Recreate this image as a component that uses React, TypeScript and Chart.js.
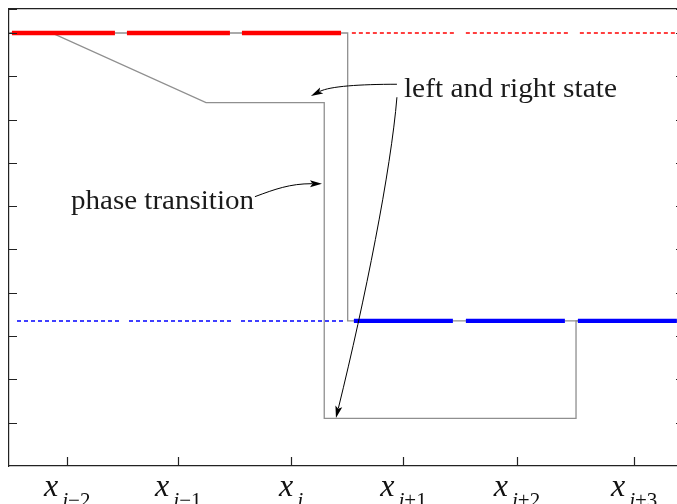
import { useEffect, useRef } from "react";
import { Chart, registerables } from "chart.js";

Chart.register(...registerables);

// Axis extents (cell units on x, state value on y)
const X_MIN = -0.517;
const X_MAX = 5.472;
const Y_MIN = 0;
const Y_MAX = 10.554;

// Cell centres and their subscripts
const xTickValues = [0, 0.985, 1.985, 2.983, 3.99, 5.03];
const xTickSubscripts = ["j\u22122", "j\u22121", "j", "j+1", "j+2", "j+3"];

// Numerical solution with the phase transition
const numericX = [-0.517, -0.138, 1.231, 2.28, 2.28, 4.514, 4.514, 5.472];
const numericY = [10, 10, 8.39, 8.39, 1.1, 1.1, 3.35, 3.35];

// Exact Riemann solution
const exactX = [-0.517, 2.488, 2.488, 5.472];
const exactY = [10, 10, 3.35, 3.35];

// Left state (red) and right state (blue)
const leftSolidX = [-0.491, 2.429];
const leftSolidY = [10, 10];
const leftDottedX = [2.525, 5.472];
const leftDottedY = [10, 10];
const rightDottedX = [-0.446, 2.49];
const rightDottedY = [3.35, 3.35];
const rightSolidX = [2.543, 5.472];
const rightSolidY = [3.35, 3.35];

// Annotations: label anchors and arrow curves (data units)
const stateLabel = { text: "left and right state", at: [2.987, 8.516], width: 213 };
const phaseLabel = { text: "phase transition", at: [0.033, 5.931], width: 183 };
const arrows = [
  [[2.925, 8.816], [2.597, 8.816], [2.331, 8.77], [2.162, 8.546]],
  [[2.925, 8.516], [2.872, 6.831], [2.641, 3.831], [2.384, 1.108]],
  [[1.665, 6.22], [1.843, 6.393], [1.976, 6.52], [2.26, 6.52]],
];

const zip = (xs: number[], ys: number[]) => xs.map((x, i) => ({ x, y: ys[i] }));

// dotted run: `count` dashes, then a longer pause before the next run
const dottedRun = (count: number, dash: number, gap: number, pause: number) => {
  const out: number[] = [];
  for (let i = 0; i < count - 1; i++) out.push(dash, gap);
  out.push(dash, pause);
  return out;
};

const GRAY = "#8f8f8f";
const AXIS = "#222222";

const framePlugin = {
  id: "frameTicks",
  afterDraw(chart: any) {
    const { ctx, chartArea } = chart;
    const xs = chart.scales.x;
    const ys = chart.scales.y;
    ctx.save();
    ctx.strokeStyle = AXIS;
    ctx.lineWidth = 1.2;
    ctx.beginPath();
    // inward tick marks along the bottom
    xs.ticks.forEach((t: any) => {
      const px = Math.round(xs.getPixelForValue(t.value)) + 0.5;
      ctx.moveTo(px, chartArea.bottom);
      ctx.lineTo(px, chartArea.bottom - 9);
    });
    // inward tick marks on left and right
    ys.ticks.forEach((t: any) => {
      if (t.value <= Y_MIN) return;
      const py = Math.round(ys.getPixelForValue(t.value)) + 0.5;
      ctx.moveTo(chartArea.left, py);
      ctx.lineTo(chartArea.left + 8, py);
      ctx.moveTo(chartArea.right, py);
      ctx.lineTo(chartArea.right - 8, py);
    });
    ctx.stroke();

    // tick labels x_{j...}
    ctx.fillStyle = "#111";
    ctx.textBaseline = "alphabetic";
    xs.ticks.forEach((t: any, i: number) => {
      const sub = xTickSubscripts[i] || "";
      const px = xs.getPixelForValue(t.value);
      ctx.font = 'italic 32px "Liberation Serif"';
      const wx = ctx.measureText("x").width;
      const head = sub.charAt(0);
      const rest = sub.slice(1);
      ctx.font = 'italic 21px "Liberation Serif"';
      const wj = ctx.measureText(head).width;
      ctx.font = '21px "Liberation Serif"';
      const wr = ctx.measureText(rest).width;
      const total = wx + 4 + wj + wr;
      let cx = px - total / 2;
      ctx.font = 'italic 32px "Liberation Serif"';
      ctx.fillText("x", cx, chartArea.bottom + 30);
      cx += wx + 4;
      ctx.font = 'italic 21px "Liberation Serif"';
      ctx.fillText(head, cx, chartArea.bottom + 41);
      cx += wj;
      ctx.font = '21px "Liberation Serif"';
      ctx.fillText(rest, cx, chartArea.bottom + 41);
    });
    ctx.restore();
  },
};

const notesPlugin = {
  id: "notes",
  afterDatasetsDraw(chart: any) {
    const { ctx } = chart;
    const xs = chart.scales.x;
    const ys = chart.scales.y;
    const P = (p: number[]) => [xs.getPixelForValue(p[0]), ys.getPixelForValue(p[1])];
    ctx.save();
    ctx.strokeStyle = "#000";
    ctx.fillStyle = "#000";
    ctx.lineWidth = 1;
    arrows.forEach((a) => {
      const [p0, c1, c2, p3] = a.map(P);
      const ang = Math.atan2(p3[1] - c2[1], p3[0] - c2[0]);
      const len = 12;
      const half = 3.5;
      const bx = p3[0] - len * Math.cos(ang);
      const by = p3[1] - len * Math.sin(ang);
      ctx.beginPath();
      ctx.moveTo(p0[0], p0[1]);
      ctx.bezierCurveTo(c1[0], c1[1], c2[0], c2[1], bx + 2 * Math.cos(ang), by + 2 * Math.sin(ang));
      ctx.stroke();
      ctx.beginPath();
      ctx.moveTo(p3[0], p3[1]);
      ctx.lineTo(bx - half * Math.sin(ang), by + half * Math.cos(ang));
      ctx.lineTo(bx + 2.5 * Math.cos(ang), by + 2.5 * Math.sin(ang));
      ctx.lineTo(bx + half * Math.sin(ang), by - half * Math.cos(ang));
      ctx.closePath();
      ctx.fill();
    });
    ctx.fillStyle = "#1a1a1a";
    ctx.textBaseline = "alphabetic";
    [stateLabel, phaseLabel].forEach((lbl) => {
      const [lx, ly] = P(lbl.at);
      ctx.font = '27px "Liberation Serif"';
      const w = ctx.measureText(lbl.text).width;
      ctx.save();
      ctx.translate(lx, ly);
      ctx.scale(lbl.width / w, 1);
      ctx.fillText(lbl.text, 0, 0);
      ctx.restore();
    });
    ctx.restore();
  },
};

export default function App() {
  const ref = useRef<HTMLCanvasElement>(null);

  useEffect(() => {
    if (!ref.current) return;
    const line = (data: any, color: string, width: number, dash: number[] = []) => ({
      data,
      showLine: true,
      borderColor: color,
      borderWidth: width,
      borderDash: dash,
      pointRadius: 0,
      fill: false,
      tension: 0,
      borderCapStyle: "butt",
    });
    const hidden = {
      ticks: { display: false },
      grid: { drawOnChartArea: false, drawTicks: false },
      border: { color: AXIS, width: 1.2 },
    };
    const chart = new Chart(ref.current, {
      type: "scatter",
      data: {
        datasets: [
          line(zip(leftSolidX, leftSolidY), "#ff0000", 4.3, [103, 12]),
          line(zip(rightSolidX, rightSolidY), "#0000ff", 4.3, [99, 13]),
          line(zip(leftDottedX, leftDottedY), "#ff0000", 1.5, dottedRun(15, 4, 3, 12)),
          line(zip(rightDottedX, rightDottedY), "#0000ff", 1.5, dottedRun(15, 4, 3, 10)),
          line(zip(exactX, exactY), GRAY, 1.3),
          line(zip(numericX, numericY), GRAY, 1.3),
        ] as any,
      },
      options: {
        animation: false,
        responsive: false,
        devicePixelRatio: 1,
        events: [],
        layout: { padding: { left: 9, top: 9, right: 16, bottom: 54 } },
        plugins: { legend: { display: false }, tooltip: { enabled: false } },
        scales: {
          x: {
            type: "linear",
            position: "bottom",
            min: X_MIN,
            max: X_MAX,
            afterBuildTicks: (axis: any) => {
              axis.ticks = xTickValues.map((v) => ({ value: v }));
            },
            ...hidden,
          },
          x2: { type: "linear", position: "top", min: X_MIN, max: X_MAX, ...hidden },
          y: {
            type: "linear",
            position: "left",
            min: Y_MIN,
            max: Y_MAX,
            ...hidden,
            ticks: { display: false, stepSize: 1 },
          },
          y2: { type: "linear", position: "right", min: Y_MIN, max: Y_MAX, ...hidden },
        },
      } as any,
      plugins: [notesPlugin, framePlugin],
    });
    return () => chart.destroy();
  }, []);

  return (
    <div
      style={{
        position: "fixed",
        left: 0,
        top: 0,
        width: 677,
        height: 504,
        overflow: "hidden",
        background: "#fff",
      }}
    >
      <canvas ref={ref} width={700} height={520} style={{ position: "absolute", left: 0, top: 0 }} />
    </div>
  );
}
